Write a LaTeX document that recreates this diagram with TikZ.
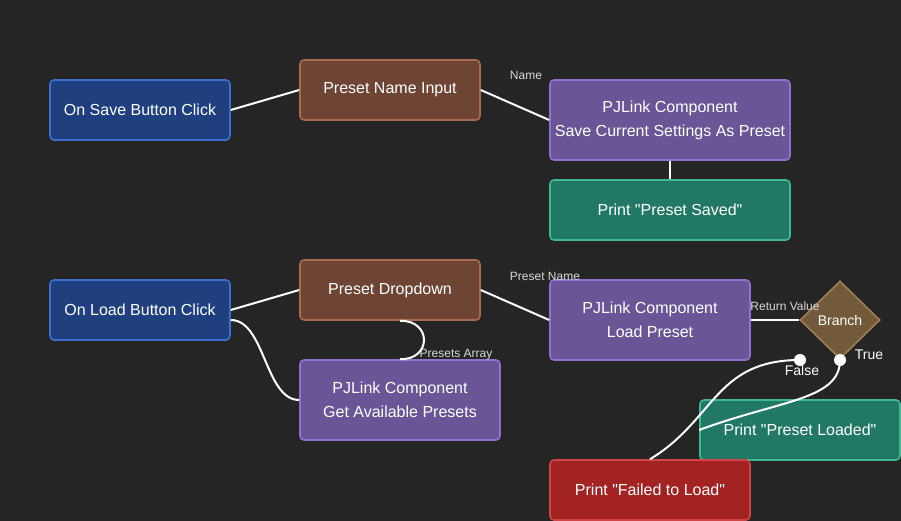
\documentclass[tikz,border=0pt]{standalone}
\usepackage{fontspec}
\newfontfamily\nodefont{Liberation Sans}
\usetikzlibrary{shapes.geometric}
\definecolor{bg}{HTML}{252525}
\definecolor{evfill}{HTML}{1F3F7F}
\definecolor{evline}{HTML}{3A6FD0}
\definecolor{infill}{HTML}{6E4434}
\definecolor{inline}{HTML}{A8694F}
\definecolor{pjfill}{HTML}{6A5596}
\definecolor{pjline}{HTML}{9070D0}
\definecolor{okfill}{HTML}{217864}
\definecolor{okline}{HTML}{3FB896}
\definecolor{errfill}{HTML}{A32222}
\definecolor{errline}{HTML}{D04545}
\definecolor{brfill}{HTML}{735A3A}
\definecolor{brline}{HTML}{A08050}
\definecolor{lbl}{HTML}{D8D8D8}
\begin{document}
\begin{tikzpicture}[
      x=0.75pt, y=-0.75pt,
      every node/.style={align=center, text=white, font=\nodefont\fontsize{12}{18}\selectfont},
      block/.style={draw, rounded corners=3pt, line width=1.2pt, inner sep=0pt, minimum width=135pt, minimum height=45pt},
      event/.style={block, fill=evfill, draw=evline},
      input/.style={block, fill=infill, draw=inline},
      comp/.style={block, fill=pjfill, draw=pjline, minimum height=60pt},
      okprint/.style={block, fill=okfill, draw=okline},
      errprint/.style={block, fill=errfill, draw=errline},
      wire/.style={draw=white, line width=1.5pt},
      pin/.style={text=lbl, font=\nodefont\fontsize{9}{10}\selectfont, inner sep=1pt},
      dot/.style={circle, fill=white, inner sep=0pt, minimum size=9pt}
    ]
      \fill[bg] (0,0) rectangle (901,521);
      \useasboundingbox (0,0) rectangle (901,521);

% Nodes
      \node[event] (save) at (140,110) {On Save Button Click};
      \node[input] (name) at (390,90) {Preset Name Input};
      \node[comp, minimum width=180pt] (savecomp) at (670,120) {PJLink Component\\Save Current Settings As Preset};
      \node[okprint, minimum width=180pt] (saved) at (670,210) {Print "Preset Saved"};

      \node[event] (load) at (140,310) {On Load Button Click};
      \node[input] (dropdown) at (390,290) {Preset Dropdown};
      \node[comp, minimum width=150pt] (getpresets) at (400,400) {PJLink Component\\Get Available Presets};
      \node[comp, minimum width=150pt] (loadcomp) at (650,320) {PJLink Component\\Load Preset};
      \node[diamond, draw=brline, fill=brfill, line width=1.2pt, minimum width=60pt, minimum height=58.5pt, inner sep=0pt,
        font=\nodefont\fontsize{10.5}{12}\selectfont] (branch) at (840,320) {Branch};
      \node[dot] (false) at (800,360) {};
      \node[dot] (true) at (840,360) {};
      \node[okprint, minimum width=150pt] (loaded) at (800,430) {Print "Preset Loaded"};
      \node[errprint, minimum width=150pt] (failed) at (650,490) {Print "Failed to Load"};

% Labels
      \node[pin] at (526,75) {Name};
      \node[pin] at (545,276) {Preset Name};
      \node[pin] at (456,355) {Presets Array};
      \node[pin] at (785,306) {Return Value};
      \node[pin, text=white, font=\nodefont\fontsize{10.5}{12}\selectfont] at (802,370) {False};
      \node[pin, text=white, font=\nodefont\fontsize{10.5}{12}\selectfont] at (869,355) {True};

% Connections
      \draw[wire] (save.east) -- (name.west);
      \draw[wire] (name.east) -- (savecomp.west);
      \draw[wire] (savecomp.south) -- (saved.north);
      \draw[wire] (load.east) -- (dropdown.west);
      \draw[wire] ([yshift=-7.5pt]load.east) .. controls (265,320) and (265,400) .. (getpresets.west);
      \draw[wire] ([xshift=7.5pt]dropdown.south) .. controls (432,320) and (432,360) .. (getpresets.north);
      \draw[wire] (dropdown.east) -- (loadcomp.west);
      \draw[wire] (loadcomp.east) -- (branch.west);
      \draw[wire] (false.center) .. controls (715,360) and (715,420) .. (failed.north);
      \draw[wire] (true.center) .. controls (840,400) and (780,400) .. (loaded.west);

    \end{tikzpicture}
\end{document}
